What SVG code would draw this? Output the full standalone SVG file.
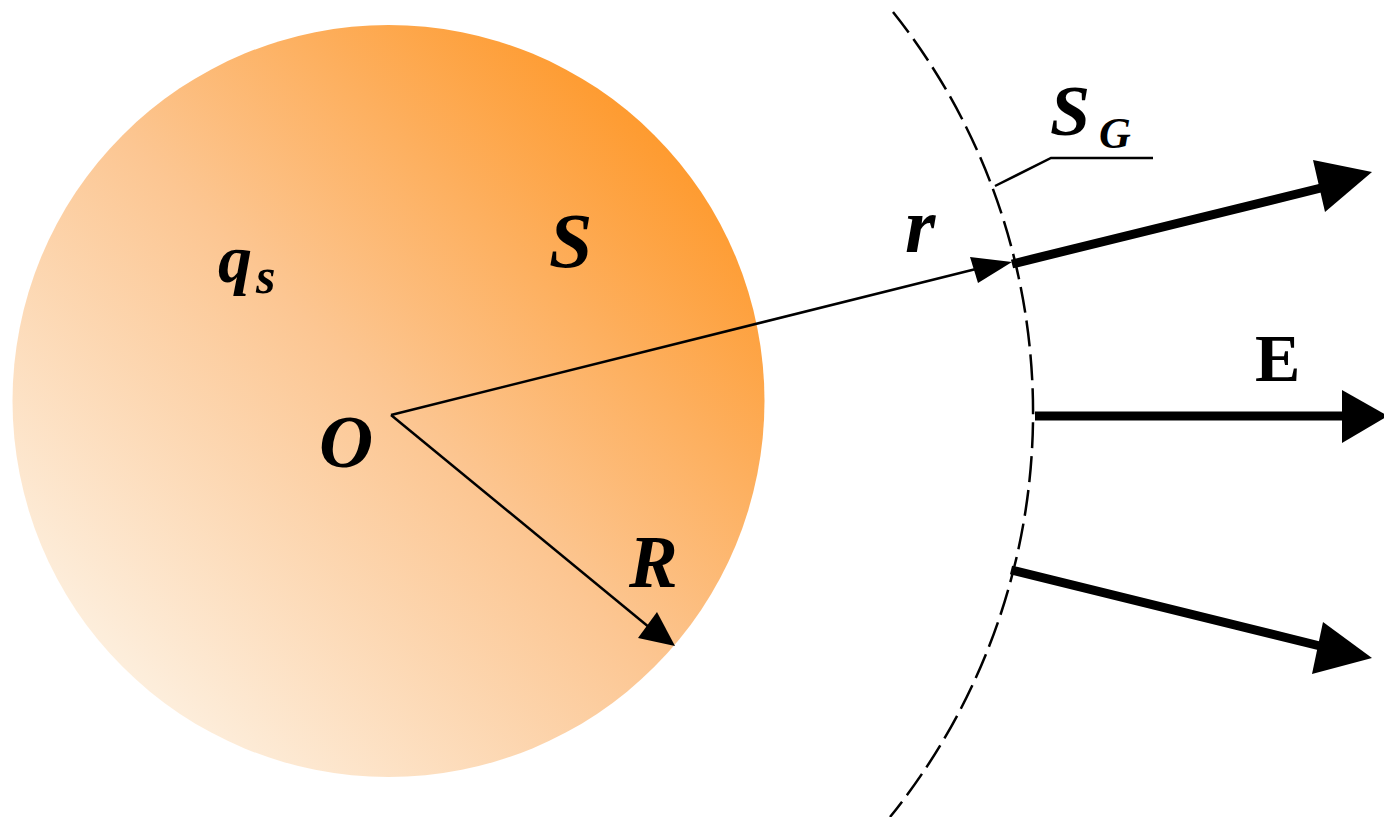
<svg xmlns="http://www.w3.org/2000/svg" width="1384" height="817" viewBox="0 0 1384 817">
<style>
.lbl{font-family:"Liberation Serif","Times New Roman",serif;font-weight:bold;font-style:italic;fill:#000}
.up{font-style:normal}
.thin{stroke:#000;stroke-width:2.5;fill:none}
.thick{stroke:#000;stroke-width:9;fill:none}
.head{fill:#000;stroke:none}
</style>
<defs>
<linearGradient id="g" x1="0" y1="1" x2="1" y2="0">
<stop offset="0.146" stop-color="#fdeedc"/>
<stop offset="0.5" stop-color="#fcc692"/>
<stop offset="0.854" stop-color="#fe9b30"/>
</linearGradient>
</defs>
<rect width="1384" height="817" fill="#fff"/>
<g id="sphere">
<circle cx="388.5" cy="401" r="376" fill="url(#g)"/>
</g>
<g id="gauss-surface">
<path d="M893,12 A643,643 0 0 1 890,817" fill="none" stroke="#000" stroke-width="2.5" stroke-dasharray="26 8"/>
</g>
<g id="connectors">
<line class="thin" x1="391" y1="415" x2="980" y2="268"/>
<polygon class="head" points="970,257 978,283 1012,262"/>
<line class="thin" x1="391" y1="415" x2="650" y2="628"/>
<polygon class="head" points="638,638 657,612 675,646"/>
<line class="thick" x1="1012" y1="264" x2="1325" y2="187"/>
<polygon class="head" points="1313,160 1325,212 1372,172"/>
<line class="thick" x1="1035" y1="416" x2="1350" y2="416"/>
<polygon class="head" points="1342,390 1342,443 1388,416"/>
<line class="thick" x1="1011" y1="570" x2="1320" y2="646"/>
<polygon class="head" points="1323,622 1312,674 1372,658"/>
<polyline class="thin" points="995,186 1051,158 1153,158" stroke-width="2.2"/>
</g>
<g id="labels">
<text class="lbl" x="218" y="282" font-size="68">q</text>
<text class="lbl" x="256" y="293" font-size="50">s</text>
<text class="lbl" x="549" y="267" font-size="78">S</text>
<text class="lbl" x="319" y="467" font-size="75">O</text>
<text class="lbl" x="629" y="587" font-size="73">R</text>
<text class="lbl" x="905" y="252" font-size="78">r</text>
<text class="lbl" x="1050" y="135" font-size="72">S</text>
<text class="lbl" x="1099" y="148" font-size="44">G</text>
<text class="lbl up" x="1255" y="381" font-size="68">E</text>
</g>
</svg>
